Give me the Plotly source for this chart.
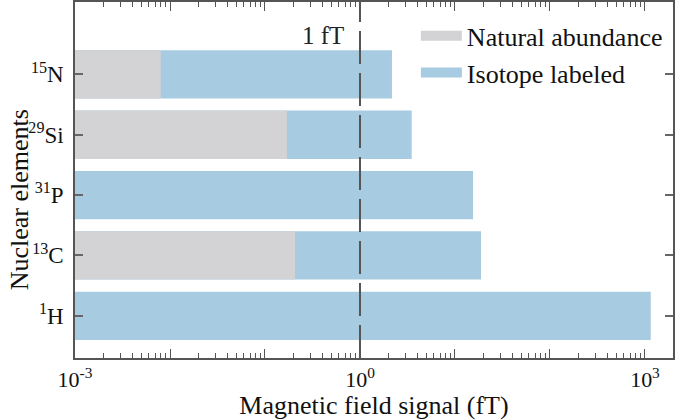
import plotly.graph_objects as go
import numpy as np

# Data
elements = ["<sup>1</sup>H", "<sup>13</sup>C", "<sup>31</sup>P", "<sup>29</sup>Si", "<sup>15</sup>N"]
isotope_labeled = [1150, 18.8, 15.5, 3.5, 2.17]
natural_abundance = [None, 0.207, None, 0.17, 0.008]
axis_min = 1e-3
decade_vals = [1e-3, 1e-2, 1e-1, 1e0, 1e1, 1e2, 1e3]
decade_text = ["10<sup>-3</sup>", "", "", "10<sup>0</sup>", "", "", "10<sup>3</sup>"]

GRAY = "#d3d3d5"
BLUE = "#a7cbe0"
FONT = "Liberation Serif, Times New Roman, serif"

fig = go.Figure()
fig.add_trace(go.Bar(
    y=elements, x=[v - axis_min for v in isotope_labeled], base=axis_min,
    orientation="h", marker=dict(color=BLUE, line=dict(width=0)),
    width=0.8, showlegend=False, hoverinfo="skip"))
fig.add_trace(go.Bar(
    y=elements, x=[(v - axis_min) if v is not None else None for v in natural_abundance], base=axis_min,
    orientation="h", marker=dict(color=GRAY, line=dict(width=0)),
    width=0.8, showlegend=False, hoverinfo="skip"))

# Legend entries
fig.add_trace(go.Scatter(x=[None], y=[None], mode="lines", name="Natural abundance",
                         line=dict(color=GRAY, width=10), legendgroup="a"))
fig.add_trace(go.Scatter(x=[None], y=[None], mode="lines", name="Isotope labeled",
                         line=dict(color=BLUE, width=10), legendgroup="b"))

fig.add_vline(x=1, line=dict(color="#555555", width=2, dash="33px,9px"))
fig.add_annotation(x=0, xref="x", y=1, yref="paper", yshift=-18, text="1 fT",
                   showarrow=False, xanchor="right", yanchor="top", xshift=-14,
                   font=dict(family=FONT, size=25, color="#222"))
# y-axis title
fig.add_annotation(x=-0.119, xref="paper", y=0.444, yref="paper", text="Nuclear elements",
                   textangle=-90, showarrow=False, xanchor="left", yanchor="middle",
                   font=dict(family=FONT, size=26, color="#111"))

minor_vals = [m * 10.0 ** d for d in range(-3, 4) for m in range(2, 10)]

fig.update_xaxes(
    type="log", range=[-3, 3.295], automargin=False,
    tickvals=decade_vals, ticktext=decade_text,
    ticks="inside", ticklen=9, tickwidth=1.2, tickcolor="#555",
    minor=dict(tickvals=minor_vals, ticks="inside", ticklen=5, tickwidth=1, tickcolor="#555"),
    showline=True, linecolor="#555", linewidth=1.5, mirror="ticks",
    showgrid=False, zeroline=False, ticklabelstandoff=1,
    tickfont=dict(family=FONT, size=22, color="#111"),
    title=dict(text="Magnetic field signal (fT)", font=dict(family=FONT, size=26, color="#111"), standoff=0),
)
fig.update_yaxes(
    type="category", categoryorder="array", categoryarray=elements,
    range=[-0.70, 5.20], automargin=False,
    ticks="inside", ticklen=8, tickwidth=1.5, tickcolor="#666",
    showline=True, linecolor="#555", linewidth=1.5, mirror="ticks",
    showgrid=False, zeroline=False, ticklabelstandoff=5,
    tickfont=dict(family=FONT, size=23, color="#111"),
)

fig.update_layout(
    width=678, height=420,
    margin=dict(l=75, r=5, t=2, b=62),
    barmode="overlay", bargap=0.2,
    plot_bgcolor="white", paper_bgcolor="white",
    legend=dict(x=0.570, y=0.971, xanchor="left", yanchor="top",
                font=dict(family=FONT, size=26, color="#111"), itemwidth=41,
                bgcolor="rgba(0,0,0,0)", tracegroupgap=0, traceorder="grouped"),
)

fig.write_html("out.html", config={"displayModeBar": False},
               post_script="document.body.style.margin='0px';")
